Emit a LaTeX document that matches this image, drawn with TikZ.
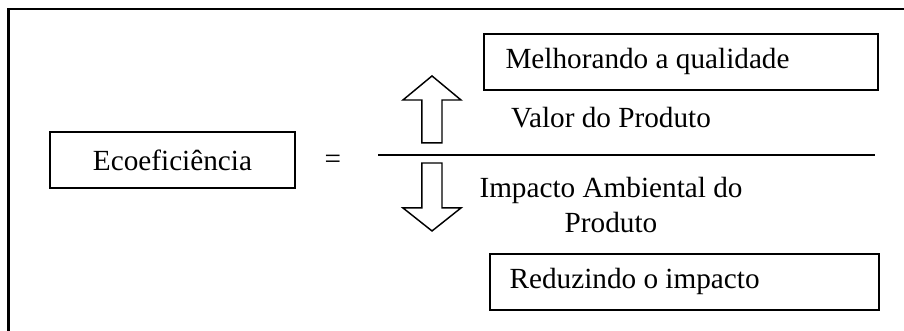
\documentclass[tikz,border=0pt]{standalone}
\usepackage{fontspec}
\setmainfont{Liberation Serif}
\usepackage{tikz}
\usetikzlibrary{positioning}
\tikzset{ebox/.style={rectangle, draw=black, line width=0.8pt, minimum height=0.808cm, inner sep=0pt, font=\fontsize{12pt}{14pt}\selectfont}}
\tikzset{etext/.style={inner sep=0pt, align=center, font=\fontsize{12pt}{14pt}\selectfont}}
\tikzset{earrow/.style={draw=black, line width=0.6pt, line join=miter}}
\tikzset{eframe/.style={draw=black, line width=1pt}}

\begin{document}
\begin{tikzpicture}
  \useasboundingbox (0,0) rectangle (13.045,4.776);
  \draw[eframe] (0.123,0) -- (0.123,4.646) -- (13.045,4.646);

  \node[ebox, minimum width=3.535cm] (eco) at (2.489,2.468) {Ecoeficiência};
  \node[etext] (equal) at (4.805,2.439) {=};

  \coordinate (fracl) at (5.455,2.540);
  \coordinate (fracr) at (12.626,2.540);
  \draw[line width=0.8pt] (fracl) -- (fracr);

  \node[ebox, minimum width=5.685cm] (better) at (9.827,3.882) {};
  \node[etext, anchor=west] (bettertext) at ([xshift=0.317cm]better.west) {Melhorando a qualidade};
  \node[etext] (value) at (8.817,3.074) {Valor do Produto};
  \node[etext] (impact) at (8.817,1.818) {Impacto Ambiental do\\Produto};
  \node[ebox, minimum width=5.613cm] (reduce) at (9.877,0.707) {};
  \node[etext, anchor=west] (reducetext) at ([xshift=0.29cm]reduce.west) {Reduzindo o impacto};

  % block arrows
  \draw[earrow] (6.089,2.713) -- (6.089,3.333) -- (5.815,3.333) -- (6.234,3.680)
    -- (6.652,3.333) -- (6.378,3.333) -- (6.378,2.713) -- cycle;
  \draw[earrow] (6.089,2.424) -- (6.089,1.775) -- (5.815,1.775) -- (6.234,1.443)
    -- (6.652,1.775) -- (6.378,1.775) -- (6.378,2.424) -- cycle;
\end{tikzpicture}
\end{document}
